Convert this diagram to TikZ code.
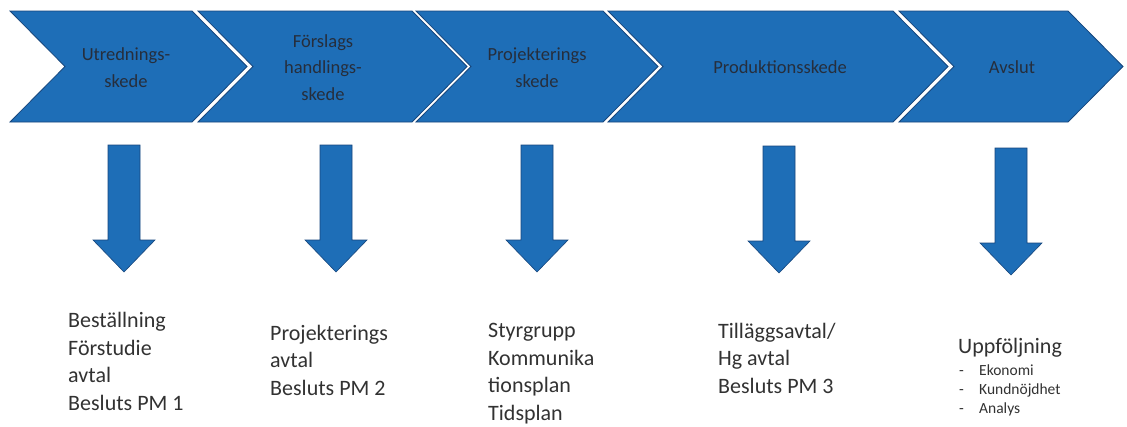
\documentclass[tikz,border=0pt]{standalone}
\usepackage{fontspec}
\setmainfont{Carlito}
\definecolor{chevfill}{RGB}{30,110,183}
\definecolor{chevedge}{RGB}{22,70,125}
\definecolor{chevtext}{RGB}{38,46,60}
\definecolor{bodytext}{RGB}{50,50,50}
\begin{document}
\begin{tikzpicture}[x=1pt,y=-1pt,
  chev/.style={fill=chevfill, draw=chevedge, line width=0.8pt, line join=miter},
  chevlabel/.style={text=chevtext, font=\fontsize{18.5}{26.5}\selectfont, align=center, anchor=base, inner sep=0pt},
  barrow/.style={fill=chevfill, draw=chevedge, line width=0.6pt, line join=miter},
  body/.style={text=bodytext, font=\fontsize{22}{27.4}\selectfont, align=left, anchor=base west, inner sep=0pt},
  small/.style={text=bodytext, font=\fontsize{15.5}{19}\selectfont, align=left, anchor=base west, inner sep=0pt},
  darrow/.pic={
    \draw[barrow] (-16,0) -- (16,0) -- (16,95) -- (31,95) -- (0,127) -- (-31,95) -- (-16,95) -- cycle;
    \coordinate (-top) at (0,0);
    \coordinate (-tip) at (0,127);
  }]
\useasboundingbox[fill=white] (0,0) rectangle (1127,426);

% chevrons
\draw[chev] (10,11) -- (192,11) -- (247,66.5) -- (192,122) -- (10,122) -- (65,66.5) -- cycle;
\draw[chev] (198,11) -- (412,11) -- (467,66.5) -- (412,122) -- (198,122) -- (253,66.5) -- cycle;
\draw[chev] (416,11) -- (603,11) -- (658,66.5) -- (603,122) -- (416,122) -- (471,66.5) -- cycle;
\draw[chev] (608,11) -- (893,11) -- (948,66.5) -- (893,122) -- (608,122) -- (663,66.5) -- cycle;
\draw[chev] (899,11) -- (1068,11) -- (1123,66.5) -- (1068,122) -- (899,122) -- (954,66.5) -- cycle;

% chevron labels (anchor = baseline of last line)
\node[chevlabel] (c1) at (126,87) {Utrednings-\\skede};
\node[chevlabel] (c2) at (323,100) {Förslags\\handlings-\\skede};
\node[chevlabel] (c3) at (537,87) {Projekterings\\skede};
\node[chevlabel] (c4) at (780,73) {Produktionsskede};
\node[chevlabel] (c5) at (1012,73) {Avslut};

% down arrows
\pic (a1) at (124,145) {darrow};
\pic (a2) at (336,145) {darrow};
\pic (a3) at (537,145) {darrow};
\pic (a4) at (779,146) {darrow};
\pic (a5) at (1011,148) {darrow};

% bottom texts (anchor = baseline of last line)
\node[body] (t1) at (68,410) {Beställning\\Förstudie\\avtal\\Besluts PM 1};
\node[body] (t2) at (270,395) {Projekterings\\avtal\\Besluts PM 2};
\node[body] (t3) at (488,420) {Styrgrupp\\Kommunika\\tionsplan\\Tidsplan};
\node[body] (t4) at (718,393) {Tilläggsavtal/\\Hg avtal\\Besluts PM 3};
\node[body] (t5) at (958,353) {Uppföljning};
\node[small] (t5b) at (959,413) {\makebox[20pt][l]{-}Ekonomi\\\makebox[20pt][l]{-}Kundnöjdhet\\\makebox[20pt][l]{-}Analys};
\end{tikzpicture}
\end{document}
